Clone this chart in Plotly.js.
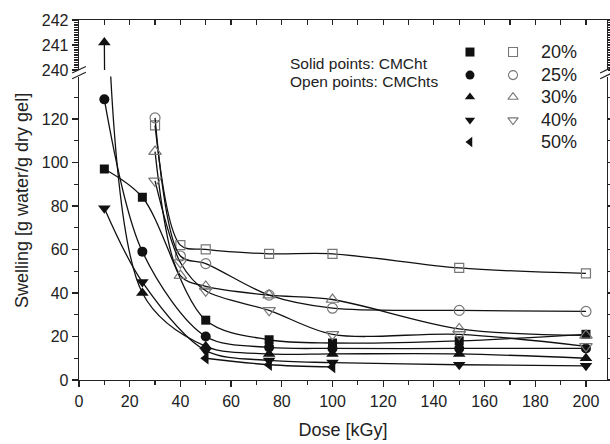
<!DOCTYPE html>
<html><head><meta charset="utf-8">
<script src="https://cdn.plot.ly/plotly-3.0.1.min.js"></script>
<style>html,body{margin:0;padding:0;background:#fff}</style>
</head><body><div id="chart" style="width:610px;height:444px"></div>
<script>
// Dose values (kGy)
const solidDose = [10, 25, 50, 75, 100, 150, 200];
const openDose = [30, 40, 50, 75, 100, 150, 200];
const dose50 = [50, 75, 100];
// Solid points: CMCht
const cmcht20 = [97, 84, 27.5, 18.5, 17, 18, 21];
const cmcht25 = [129, 59, 20, 15, 14.5, 14.5, 14.5];
const cmcht30 = [241.1, 40, 15.5, 12, 12, 12, 10];
const cmcht40 = [79, 45, 13.5, 9, 8, 7, 6.5];
const cmcht50 = [10, 7, 6];
// Open points: CMChts
const cmchts20 = [117, 62, 60, 58, 58, 51.5, 49];
const cmchts25 = [120.5, 57, 53.5, 39, 33, 32, 31.5];
const cmchts30 = [105, 48, 43, 39, 37, 23.5, 20.5];
const cmchts40 = [91.5, 54, 41, 32, 21, 21, 15.5];
// Legend
const concLabels = ['20%', '25%', '30%', '40%', '50%'];
const solidSymbols = ['square', 'circle', 'triangle-up', 'triangle-down', 'triangle-left'];
const openSymbols = ['square-open', 'circle-open', 'triangle-up-open', 'triangle-down-open'];
const legendRowsY = [0.911, 0.847, 0.786, 0.722, 0.661];

const FONT = 'Liberation Sans, Arial, sans-serif';
const LINE = {color: '#111', width: 1.3, shape: 'spline', smoothing: 0.9};
const OPEN_COL = '#777';
const sizes = [9, 10, 11, 11, 11];

const solidSeries = [cmcht20, cmcht25, cmcht30, cmcht40, cmcht50];
const openSeries = [cmchts20, cmchts25, cmchts30, cmchts40];

const traces = [];
solidSeries.forEach((ys, i) => {
  const xs = i === 4 ? dose50 : solidDose;
  traces.push({x: xs, y: ys, xaxis: 'x', yaxis: 'y', mode: 'lines+markers', line: LINE,
    marker: {symbol: solidSymbols[i], size: sizes[i], color: '#111'}, showlegend: false, hoverinfo: 'skip'});
});
openSeries.forEach((ys, i) => {
  traces.push({x: openDose, y: ys, xaxis: 'x', yaxis: 'y', mode: 'lines+markers', line: LINE,
    marker: {symbol: openSymbols[i], size: sizes[i], color: OPEN_COL, line: {width: 1.2, color: OPEN_COL}}, showlegend: false, hoverinfo: 'skip'});
});
// upper (broken) section: 30% CMCht start point
traces.push({x: solidDose.slice(0, 2), y: cmcht30.slice(0, 2), xaxis: 'x2', yaxis: 'y2', mode: 'lines+markers',
  line: {color: '#111', width: 1.3},
  marker: {symbol: 'triangle-up', size: 11, color: '#111'}, showlegend: false, hoverinfo: 'skip'});
// legend markers
traces.push({x: legendRowsY.map(() => 0.7405), y: legendRowsY, xaxis: 'x3', yaxis: 'y3', mode: 'markers',
  marker: {symbol: solidSymbols, size: 9, color: '#111'}, showlegend: false, hoverinfo: 'skip'});
traces.push({x: openSymbols.map(() => 0.822), y: legendRowsY.slice(0, 4), xaxis: 'x3', yaxis: 'y3', mode: 'markers',
  marker: {symbol: openSymbols, size: 9, color: OPEN_COL, line: {width: 1.1, color: OPEN_COL}}, showlegend: false, hoverinfo: 'skip'});

const axCommon = {showgrid: false, zeroline: false, showline: true, linecolor: '#222', linewidth: 1.3,
  tickcolor: '#222', tickwidth: 1.2, tickfont: {family: FONT, size: 16, color: '#222'}};

const annotations = concLabels.map((t, i) => ({xref: 'paper', yref: 'paper', x: 0.871, y: legendRowsY[i],
  xanchor: 'left', yanchor: 'middle', text: t, showarrow: false, font: {family: FONT, size: 18, color: '#222'}}));
annotations.push({xref: 'paper', yref: 'paper', x: 0.396, y: 0.880, xanchor: 'left', yanchor: 'middle',
  text: 'Solid points: CMCht', showarrow: false, font: {family: FONT, size: 15.5, color: '#222'}});
annotations.push({xref: 'paper', yref: 'paper', x: 0.396, y: 0.829, xanchor: 'left', yanchor: 'middle',
  text: 'Open points: CMChts', showarrow: false, font: {family: FONT, size: 15.5, color: '#222'}});
annotations.push({xref: 'paper', yref: 'paper', x: -0.108, y: 0.5, xanchor: 'center', yanchor: 'middle',
  textangle: -90, text: 'Swelling [g water/g dry gel]', showarrow: false, font: {family: FONT, size: 18, color: '#222'}});

const shapes = [];
[0, 1].forEach(xp => {
  [0.846, 0.862].forEach(yp => {
    shapes.push({type: 'line', xref: 'paper', yref: 'paper', x0: xp - 0.013, x1: xp + 0.013,
      y0: yp - 0.009, y1: yp + 0.009, line: {color: '#222', width: 1.2}});
  });
});

const layout = {
  width: 610, height: 444,
  margin: {l: 79, r: 3, t: 20, b: 64},
  paper_bgcolor: '#fff', plot_bgcolor: 'rgba(0,0,0,0)',
  font: {family: FONT, color: '#222'},
  xaxis: Object.assign({}, axCommon, {anchor: 'y', range: [0, 208.3], dtick: 20, ticks: 'outside', ticklen: 6,
    minor: {dtick: 10, ticklen: 4, ticks: 'outside', tickcolor: '#222'},
    title: {text: 'Dose [kGy]', font: {family: FONT, size: 18, color: '#222'}, standoff: 15}}),
  yaxis: Object.assign({}, axCommon, {anchor: 'x', domain: [0, 0.843], range: [0, 139.5], dtick: 20,
    ticks: 'outside', ticklen: 6, mirror: 'ticks',
    minor: {dtick: 10, ticklen: 4, ticks: 'outside', tickcolor: '#222'}}),
  xaxis2: Object.assign({}, axCommon, {anchor: 'y2', matches: 'x', side: 'top', range: [0, 208.3], dtick: 10,
    ticks: 'inside', ticklen: 5, showticklabels: false}),
  yaxis2: Object.assign({}, axCommon, {anchor: 'x2', domain: [0.861, 1], range: [240, 242], dtick: 1,
    ticks: 'outside', ticklen: 6, mirror: 'ticks',
    minor: {dtick: 0.1, ticklen: 4, ticks: 'outside', tickcolor: '#222'}}),
  xaxis3: {anchor: 'y3', domain: [0, 1], range: [0, 1], visible: false, fixedrange: true},
  yaxis3: {anchor: 'x3', domain: [0, 1], range: [0, 1], visible: false, fixedrange: true},
  annotations: annotations,
  shapes: shapes
};

Plotly.newPlot('chart', traces, layout, {displayModeBar: false, staticPlot: true});
</script></body></html>
